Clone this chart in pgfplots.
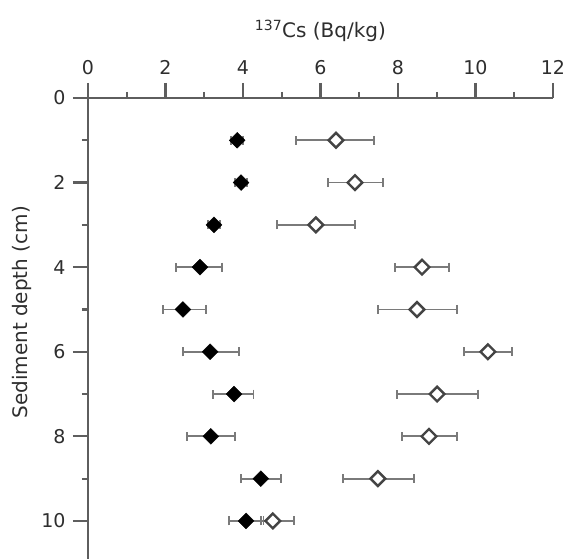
\documentclass[border=0pt]{standalone}
\usepackage{fontspec}
\setmainfont{DejaVu Sans}
\usepackage{pgfplots}
\pgfplotsset{compat=1.18}
\usepackage{pgfplotstable}
\usetikzlibrary{calc}

\definecolor{axisgray}{HTML}{5E5E5E}
\definecolor{textgray}{HTML}{2E2E2E}
\definecolor{errgray}{HTML}{7A7A7A}
\definecolor{opengray}{HTML}{444444}

% depth, value, error minus, error plus
\pgfplotstableread{
d   x     em    ep
1   3.85  0.15  0.15
2   3.95  0.15  0.15
3   3.25  0.15  0.15
4   2.89  0.62  0.57
5   2.45  0.51  0.60
6   3.15  0.70  0.75
7   3.77  0.54  0.50
8   3.17  0.62  0.63
9   4.46  0.51  0.52
10  4.08  0.44  0.45
}\filled

\pgfplotstableread{
d   x      em    ep
1   6.40   1.03  0.98
2   6.89   0.70  0.72
3   5.88   1.00  1.01
4   8.62   0.70  0.70
5   8.49   1.01  1.03
6   10.32  0.62  0.62
7   9.01   1.04  1.05
8   8.80   0.70  0.72
9   7.48   0.90  0.93
10  4.77   0.31  0.55
}\open

\begin{document}
\begin{tikzpicture}
\begin{axis}[
    name=ax,
    scale only axis,
    width=465pt, height=461pt,
    xmin=0, xmax=12,
    ymin=0, ymax=10.9,
    y dir=reverse,
    axis x line=top,
    axis y line=left,
    axis line style={-, axisgray, line width=1.8pt},
    xtick={0,2,...,12},
    ytick={0,2,...,10},
    minor x tick num=1,
    minor y tick num=1,
    tick align=outside,
    major tick length=15pt,
    minor tick length=6pt,
    tick style={axisgray, line width=2.2pt},
    tick label style={font=\fontsize{19}{22}\selectfont, text=textgray},
    /pgf/number format/assume math mode=true,
    xticklabel style={yshift=5pt},
    yticklabel style={xshift=-4pt},
    ylabel={Sediment depth (cm)},
    ylabel style={at={(axis description cs:-0.142,0.535)}, anchor=center,
        font=\fontsize{20}{24}\selectfont, text=textgray},
    clip=false,
    error bars/error bar style={errgray, line width=1.8pt},
    error bars/error mark options={rotate=90, errgray, mark size=4.5pt, line width=1.8pt},
]
\addplot[only marks, mark=square*, mark size=5.6pt,
    mark options={rotate=45, fill=black, draw=black},
    error bars/.cd, x dir=both, x explicit]
    table[x=x, y=d, x error minus=em, x error plus=ep] {\filled};
\addplot[only marks, mark=square*, mark size=5.2pt,
    mark options={rotate=45, fill=white, draw=opengray, line width=2.4pt},
    error bars/.cd, x dir=both, x explicit]
    table[x=x, y=d, x error minus=em, x error plus=ep] {\open};
\node[anchor=base, text=textgray, font=\fontsize{20}{24}\selectfont]
    at (rel axis cs:0.5,1) [yshift=60pt] {\textsuperscript{137}Cs (Bq/kg)};
\end{axis}
\pgfresetboundingbox
\path ($(ax.south west)+(-88pt,0)$) rectangle ($(ax.north east)+(13pt,98pt)$);
\end{tikzpicture}
\end{document}
